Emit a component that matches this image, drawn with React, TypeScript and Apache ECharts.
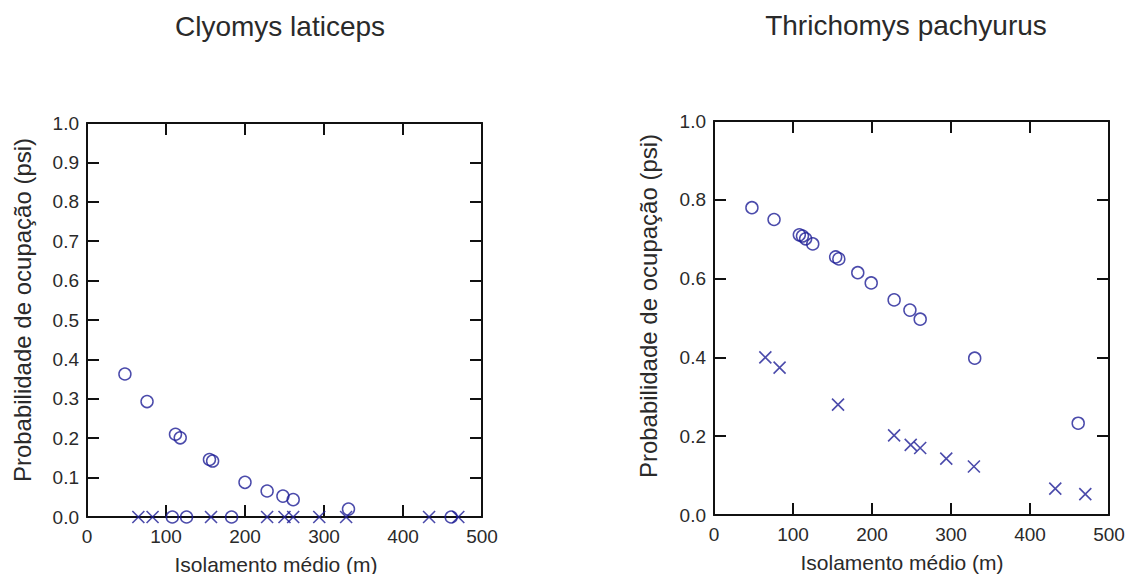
import React, { useEffect, useRef } from "react";
import * as echarts from "echarts";

// Clyomys laticeps
const clyCircleX = [48, 76, 112, 118, 155, 159, 200, 228, 248, 261, 331, 108, 126, 183, 461];
const clyCircleY = [0.363, 0.293, 0.21, 0.201, 0.146, 0.142, 0.088, 0.066, 0.053, 0.044, 0.02, 0, 0, 0, 0];
const clyCrossX = [65, 83, 157, 228, 250, 261, 294, 328, 433, 470];
const clyCrossY = [0, 0, 0, 0, 0, 0, 0, 0, 0, 0];

// Thrichomys pachyurus
const thrCircleX = [48, 76, 108, 112, 116, 125, 154, 158, 182, 199, 228, 248, 261, 330, 461];
const thrCircleY = [0.78, 0.75, 0.711, 0.708, 0.701, 0.688, 0.655, 0.65, 0.615, 0.589, 0.546, 0.52, 0.497, 0.398, 0.233];
const thrCrossX = [65, 83, 157, 228, 249, 261, 294, 329, 432, 470];
const thrCrossY = [0.4, 0.374, 0.28, 0.202, 0.178, 0.17, 0.143, 0.123, 0.067, 0.053];

const titles = ["Clyomys laticeps", "Thrichomys pachyurus"];
const xName = "Isolamento médio (m)";
const yName = "Probabilidade de ocupação (psi)";
const yIntervals = [0.1, 0.2];

const FONT = "'Liberation Sans', Arial, sans-serif";
const INK = "#111";
const TEXT = "#2a2a2a";
const MARK = "#1e1e96";
const CROSS = "path://M0 0L10 10M10 0L0 10";

const zip = (xs: number[], ys: number[]) => xs.map((x, i) => [x, ys[i]]);

export default function App() {
  const ref = useRef<HTMLDivElement>(null);
  useEffect(() => {
    if (!ref.current) return;
    const chart = echarts.init(ref.current, undefined, { renderer: "svg" });
    const grids = [
      { left: 87, top: 123, width: 395, height: 394 },
      { left: 714, top: 121, width: 395, height: 394 },
    ];
    const line = { show: true, onZero: false, lineStyle: { color: INK, width: 2 } };
    const tick = { show: true, inside: true, length: 12, lineStyle: { color: INK, width: 2 } };
    const label = { fontSize: 19, fontFamily: FONT, color: TEXT };
    const xAxis: any[] = [];
    const yAxis: any[] = [];
    grids.forEach((_, g) => {
      ["bottom", "top"].forEach((pos) => {
        xAxis.push({
          type: "value",
          gridIndex: g,
          position: pos,
          min: 0,
          max: 500,
          interval: 100,
          axisLine: line,
          axisTick: tick,
          axisLabel: pos === "bottom" ? { ...label, margin: 10 } : { show: false },
          splitLine: { show: false },
        });
      });
      ["left", "right"].forEach((pos) => {
        yAxis.push({
          type: "value",
          gridIndex: g,
          position: pos,
          min: 0,
          max: 1,
          interval: yIntervals[g],
          axisLine: line,
          axisTick: tick,
          axisLabel:
            pos === "left"
              ? { ...label, margin: 8, formatter: (v: number) => v.toFixed(1) }
              : { show: false },
          splitLine: { show: false },
        });
      });
    });
    const circleStyle = { color: "rgba(0,0,0,0)", borderColor: MARK, borderWidth: 1.5 };
    const crossStyle = { color: "rgba(0,0,0,0)", borderColor: MARK, borderWidth: 1.6 };
    const mk = (g: number, data: number[][], cross: boolean) => ({
      type: "scatter",
      xAxisIndex: g * 2,
      yAxisIndex: g * 2,
      data,
      clip: false,
      symbol: cross ? CROSS : "circle",
      symbolSize: cross ? 12 : 12,
      itemStyle: cross ? crossStyle : circleStyle,
      emphasis: { disabled: true },
    });
    const txt = (text: string, x: number, y: number, size: number, rot = 0) => ({
      type: "text",
      x,
      y,
      rotation: rot,
      silent: true,
      style: {
        text,
        fontSize: size,
        fontFamily: FONT,
        fill: TEXT,
        align: "center",
        verticalAlign: "middle",
        textAlign: "center",
        textVerticalAlign: "middle",
      },
    });
    chart.setOption({
      animation: false,
      backgroundColor: "#fff",
      grid: grids,
      xAxis,
      yAxis,
      series: [
        mk(0, zip(clyCircleX, clyCircleY), false),
        mk(0, zip(clyCrossX, clyCrossY), true),
        mk(1, zip(thrCircleX, thrCircleY), false),
        mk(1, zip(thrCrossX, thrCrossY), true),
      ],
      graphic: [
        txt(titles[0], 280, 26, 28),
        txt(titles[1], 906, 25, 28),
        txt(xName, 276, 564, 21),
        txt(xName, 902, 562, 21),
        txt(yName, 22, 310, 24, Math.PI / 2),
        txt(yName, 648, 306, 24, Math.PI / 2),
      ],
    });
    return () => chart.dispose();
  }, []);
  return (
    <div
      ref={ref}
      style={{ position: "fixed", left: 0, top: 0, width: 1133, height: 574 }}
    />
  );
}
